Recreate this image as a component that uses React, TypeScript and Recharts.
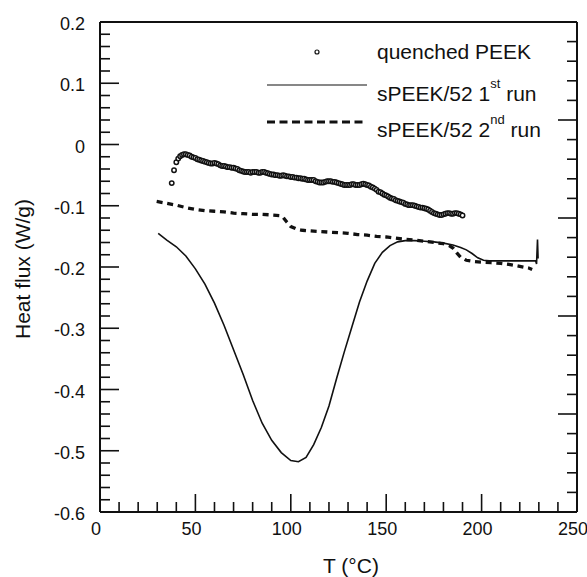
import React from 'react';
import { ComposedChart, Line, Scatter, XAxis, YAxis, ReferenceLine, Legend } from 'recharts';

// ---------- data ----------
const quenchedT = [37.6, 38.8, 40, 41, 42, 43, 44, 45, 46, 47, 48, 49, 50, 51, 52, 53, 54, 55, 56, 57, 58, 59, 60, 61, 62, 63, 64, 65, 66, 67, 68, 69, 70, 71, 72, 73, 74, 75, 76, 77, 78, 79, 80, 81, 82, 83, 84, 85, 86, 87, 88, 89, 90, 91, 92, 93, 94, 95, 96, 97, 98, 99, 100, 101, 102, 103, 104, 105, 106, 107, 108, 109, 110, 111, 112, 113, 114, 115, 116, 117, 118, 119, 120, 121, 122, 123, 124, 125, 126, 127, 128, 129, 130, 131, 132, 133, 134, 135, 136, 137, 138, 139, 140, 141, 142, 143, 144, 145, 146, 147, 148, 149, 150, 151, 152, 153, 154, 155, 156, 157, 158, 159, 160, 161, 162, 163, 164, 165, 166, 167, 168, 169, 170, 171, 172, 173, 174, 175, 176, 177, 178, 179, 180, 181, 182, 183, 184, 185, 186, 187, 188, 189, 190];
const quenchedY = [-0.063, -0.042, -0.029, -0.023, -0.019, -0.017, -0.016, -0.016, -0.017, -0.018, -0.02, -0.021, -0.022, -0.024, -0.025, -0.026, -0.027, -0.028, -0.029, -0.03, -0.031, -0.031, -0.03, -0.031, -0.032, -0.034, -0.035, -0.035, -0.036, -0.037, -0.037, -0.038, -0.038, -0.039, -0.04, -0.042, -0.043, -0.044, -0.045, -0.045, -0.045, -0.046, -0.045, -0.045, -0.045, -0.046, -0.046, -0.045, -0.045, -0.046, -0.047, -0.048, -0.049, -0.049, -0.05, -0.05, -0.051, -0.051, -0.05, -0.051, -0.052, -0.052, -0.053, -0.053, -0.054, -0.054, -0.055, -0.055, -0.056, -0.056, -0.057, -0.058, -0.058, -0.058, -0.058, -0.06, -0.061, -0.062, -0.062, -0.062, -0.061, -0.06, -0.06, -0.06, -0.061, -0.061, -0.062, -0.063, -0.064, -0.065, -0.066, -0.066, -0.066, -0.066, -0.065, -0.065, -0.066, -0.066, -0.066, -0.065, -0.064, -0.065, -0.066, -0.067, -0.069, -0.07, -0.072, -0.074, -0.077, -0.078, -0.08, -0.082, -0.083, -0.085, -0.087, -0.088, -0.089, -0.091, -0.092, -0.093, -0.094, -0.095, -0.097, -0.098, -0.099, -0.099, -0.099, -0.1, -0.101, -0.102, -0.103, -0.103, -0.104, -0.105, -0.106, -0.108, -0.11, -0.112, -0.113, -0.114, -0.115, -0.115, -0.114, -0.113, -0.112, -0.112, -0.113, -0.113, -0.112, -0.112, -0.113, -0.114, -0.116];

const run1T = [30.5, 35, 40, 45, 50, 55, 60, 65, 70, 75, 80, 85, 90, 95, 100, 104, 108, 112, 116, 120, 124, 128, 132, 136, 140, 144, 148, 152, 156, 160, 165, 170, 175, 180, 185, 189, 192, 195, 198, 201, 204, 210, 215, 220, 225, 228.3, 228.8, 229.3, 229.6];
const run1Y = [-0.145, -0.156, -0.167, -0.182, -0.203, -0.228, -0.259, -0.295, -0.335, -0.375, -0.418, -0.455, -0.483, -0.503, -0.516, -0.518, -0.511, -0.49, -0.462, -0.427, -0.382, -0.339, -0.298, -0.257, -0.223, -0.194, -0.176, -0.165, -0.159, -0.157, -0.157, -0.158, -0.159, -0.161, -0.164, -0.168, -0.172, -0.178, -0.185, -0.189, -0.19, -0.19, -0.19, -0.19, -0.19, -0.19, -0.195, -0.155, -0.186];

const run2T = [29.7, 35, 40, 45, 50, 55, 60, 65, 70, 75, 80, 85, 90, 94, 96, 98, 100, 103, 106, 110, 115, 120, 125, 130, 135, 140, 145, 150, 155, 160, 165, 170, 175, 180, 183, 185, 187, 189, 192, 196, 200, 205, 210, 215, 220, 225, 226.5];
const run2Y = [-0.093, -0.096, -0.099, -0.103, -0.106, -0.108, -0.109, -0.11, -0.112, -0.113, -0.114, -0.114, -0.115, -0.116, -0.119, -0.127, -0.134, -0.138, -0.14, -0.141, -0.142, -0.143, -0.144, -0.145, -0.147, -0.148, -0.15, -0.151, -0.153, -0.155, -0.156, -0.158, -0.16, -0.162, -0.165, -0.169, -0.177, -0.184, -0.189, -0.191, -0.192, -0.193, -0.194, -0.196, -0.199, -0.202, -0.204];

const xTicks = [0, 10, 20, 30, 40, 50, 60, 70, 80, 90, 100, 110, 120, 130, 140, 150, 160, 170, 180, 190, 200, 210, 220, 230, 240, 250];
const xMajor = [0, 50, 100, 150, 200, 250];
const xLabels = ['0', '50', '100', '150', '200', '250'];

const yTicks = [0.2, 0.18, 0.16, 0.14, 0.12, 0.1, 0.08, 0.06, 0.04, 0.02, 0, -0.02, -0.04, -0.06, -0.08, -0.1, -0.12, -0.14, -0.16, -0.18, -0.2, -0.22, -0.24, -0.26, -0.28, -0.3, -0.32, -0.34, -0.36, -0.38, -0.4, -0.42, -0.44, -0.46, -0.48, -0.5, -0.52, -0.54, -0.56, -0.58, -0.6];
const yMajor = [0.2, 0.1, 0, -0.1, -0.2, -0.3, -0.4, -0.5, -0.6];
const yLabels = ['0.2', '0.1', '0', '-0.1', '-0.2', '-0.3', '-0.4', '-0.5', '-0.6'];

const rTicks = [0, 0.2, 0.4, 0.6, 0.8, 1, 1.2, 1.4, 1.6, 1.8, 2, 2.2, 2.4, 2.6, 2.8, 3, 3.2, 3.4, 3.6, 3.8, 4, 4.2, 4.4, 4.6, 4.8, 5];
const rMajor = [0, 1, 2, 3, 4, 5];

const zip = (t: number[], y: number[]) => t.map((T, i) => ({ T, y: y[i] }));
const quenched = zip(quenchedT, quenchedY);
const run1 = zip(run1T, run1Y);
const run2 = zip(run2T, run2Y);

// ---------- styling ----------
const FONT = '"Liberation Sans", Arial, Helvetica, sans-serif';
const INK = '#111';
const MAJOR = 19;
const MINOR = 10;

const findIdx = (arr: number[], v: number) => arr.findIndex((m) => Math.abs(m - v) < 1e-6);

const LeftTick = (props: any) => {
  const { x, y, payload } = props;
  const idx = findIdx(yMajor, payload.value);
  const len = idx >= 0 ? MAJOR : MINOR;
  return (
    <g>
      <line x1={x} x2={x + len} y1={y} y2={y} stroke={INK} strokeWidth={1.6} />
      {idx >= 0 && (
        <text x={x - 15} y={y + 8} textAnchor="end" fontSize={18} fontFamily={FONT} fill={INK}>
          {yLabels[idx]}
        </text>
      )}
    </g>
  );
};

const RightTick = (props: any) => {
  const { x, y, payload } = props;
  const idx = findIdx(rMajor, payload.value);
  const len = idx >= 0 ? MAJOR : MINOR;
  return <line x1={x} x2={x - len} y1={y} y2={y} stroke={INK} strokeWidth={1.6} />;
};

const BottomTick = (props: any) => {
  const { x, y, payload } = props;
  const idx = findIdx(xMajor, payload.value);
  const len = idx >= 0 ? 18 : MINOR;
  return (
    <g>
      <line x1={x} x2={x} y1={y} y2={y - len} stroke={INK} strokeWidth={1.6} />
      {idx >= 0 && (
        <text x={x - 4} y={y + 23} textAnchor="middle" fontSize={18} fontFamily={FONT} fill={INK}>
          {xLabels[idx]}
        </text>
      )}
    </g>
  );
};

const OpenCircle = (props: any) => {
  const { cx, cy } = props;
  if (cx == null || cy == null) return <g />;
  return <circle cx={cx} cy={cy} r={2.2} fill="#fff" stroke={INK} strokeWidth={1.5} />;
};

const Overlay = () => (
  <svg width={587} height={577} style={{ position: 'absolute', left: 0, top: 0, pointerEvents: 'none' }}>
    <g fontFamily={FONT} fill={INK}>
      <circle cx={317} cy={52} r={2} fill="#fff" stroke={INK} strokeWidth={1.2} />
      <text x={377} y={59} fontSize={21}>quenched PEEK</text>
      <line x1={267} x2={367} y1={85} y2={85} stroke={INK} strokeWidth={1.2} />
      <text x={377} y={101} fontSize={21}>
        sPEEK/52 1<tspan dy={-13} fontSize={13}>st</tspan>
        <tspan dy={13}> run</tspan>
      </text>
      <line x1={267} x2={367} y1={122} y2={122} stroke={INK} strokeWidth={3.2} strokeDasharray="8 4.5" />
      <text x={377} y={137} fontSize={21}>
        sPEEK/52 2<tspan dy={-13} fontSize={13}>nd</tspan>
        <tspan dy={13}> run</tspan>
      </text>
      <text x={351} y={573} textAnchor="middle" fontSize={21}>T (°C)</text>
      <text transform="translate(30,269) rotate(-90)" textAnchor="middle" fontSize={21}>Heat flux (W/g)</text>
    </g>
  </svg>
);

export default function App() {
  return (
    <div style={{ position: 'absolute', left: 0, top: 0, width: 587, height: 577, background: '#fff' }}>
      <ComposedChart width={587} height={577} margin={{ top: 22, right: 0, bottom: 0, left: 0 }}>
        <XAxis
          type="number"
          dataKey="T"
          domain={[0, 250]}
          ticks={xTicks}
          interval={0}
          height={65}
          tickSize={0}
          tickMargin={0}
          tickLine={false}
          axisLine={{ stroke: INK, strokeWidth: 2 }}
          tick={<BottomTick />}
          allowDataOverflow
        />
        <YAxis
          type="number"
          domain={[-0.6, 0.2]}
          ticks={yTicks}
          interval={0}
          width={100}
          tickSize={0}
          tickMargin={0}
          tickLine={false}
          axisLine={{ stroke: INK, strokeWidth: 2 }}
          tick={<LeftTick />}
          allowDataOverflow
        />
        <YAxis
          yAxisId="right"
          orientation="right"
          type="number"
          domain={[0, 5]}
          ticks={rTicks}
          interval={0}
          width={10}
          tickSize={0}
          tickMargin={0}
          tickLine={false}
          axisLine={{ stroke: INK, strokeWidth: 2 }}
          tick={<RightTick />}
          allowDataOverflow
        />
        <ReferenceLine y={0.2} stroke={INK} strokeWidth={2} />
        <Line
          data={run2}
          dataKey="y"
          type="linear"
          stroke={INK}
          strokeWidth={3.3}
          strokeDasharray="6 4.7"
          dot={false}
          isAnimationActive={false}
        />
        <Line
          data={run1}
          dataKey="y"
          type="linear"
          stroke={INK}
          strokeWidth={1.6}
          dot={false}
          isAnimationActive={false}
        />
        <Scatter data={quenched} dataKey="y" shape={<OpenCircle />} isAnimationActive={false} />
        <Legend
          layout="vertical"
          align="center"
          verticalAlign="middle"
          content={() => <Overlay />}
          wrapperStyle={{ position: 'absolute', left: 0, top: 0, width: 587, height: 577, pointerEvents: 'none' }}
        />
      </ComposedChart>
    </div>
  );
}
